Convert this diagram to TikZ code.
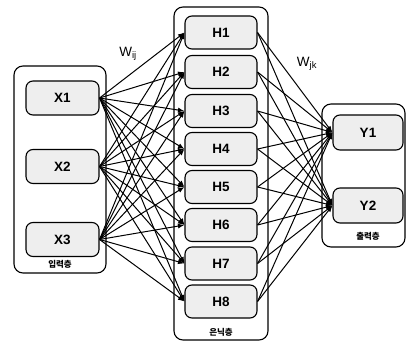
\documentclass[tikz,border=0pt]{standalone}
\usepackage{fontspec}
\setmainfont{Liberation Sans}
\newfontfamily\krfont{Noto Sans CJK KR}
\usetikzlibrary{arrows.meta}
\begin{document}
\begin{tikzpicture}[x=1pt,y=-1pt,
  unit/.style={draw=black,line width=1.1pt,fill=gray!13,rounded corners=7pt,
    minimum width=72pt,minimum height=34pt,inner sep=0pt,font=\fontsize{13.5}{13.5}\bfseries},
  layerbox/.style={draw=black,line width=1.1pt,rounded corners=9pt},
  layername/.style={font=\krfont\fontsize{8.5}{8.5}\selectfont\bfseries,inner sep=0pt},
  link/.style={line width=1pt,-{Latex[length=6.5pt,width=5pt]}},
  wlabel/.style={font=\fontsize{13.5}{13.5}\selectfont,inner sep=0pt}]
\useasboundingbox (0,0) rectangle (407,345);
% layer containers
\draw[layerbox] (14,66) rectangle (106,273);
\draw[layerbox] (174,7) rectangle (268,340);
\draw[layerbox] (322,104) rectangle (405,247);
\node[layername] (lin)  at (60,264) {입력층};
\node[layername] (lhid) at (221,332) {은닉층};
\node[layername] (lout) at (368,236) {출력층};
% input units
\node[unit,minimum width=73pt] (X1) at (62.5,98) {X1};
\node[unit,minimum width=73pt] (X2) at (62.5,166.5) {X2};
\node[unit,minimum width=73pt] (X3) at (62.5,239.5) {X3};
% hidden units
\foreach \i/\y in {1/32.5,2/72,3/111,4/149,5/187,6/225,7/263.5,8/301.5}
  \node[unit,minimum height=33pt] (H\i) at (221,\y) {H\i};
% output units
\node[unit,minimum width=70pt,minimum height=35pt] (Y1) at (368,132.5) {Y1};
\node[unit,minimum width=70pt,minimum height=35pt] (Y2) at (368,205.5) {Y2};
% weights
\foreach \a in {1,2,3}
  \foreach \b in {1,...,8}
    \draw[link] (X\a.east) -- (H\b.west);
\foreach \b in {1,...,8}
  \foreach \c in {1,2}
    \draw[link] (H\b.east) -- (Y\c.west);
\node[wlabel] (wij) at (128,54) {W\textsubscript{ij}};
\node[wlabel] (wjk) at (307,64) {W\textsubscript{jk}};
\end{tikzpicture}
\end{document}
